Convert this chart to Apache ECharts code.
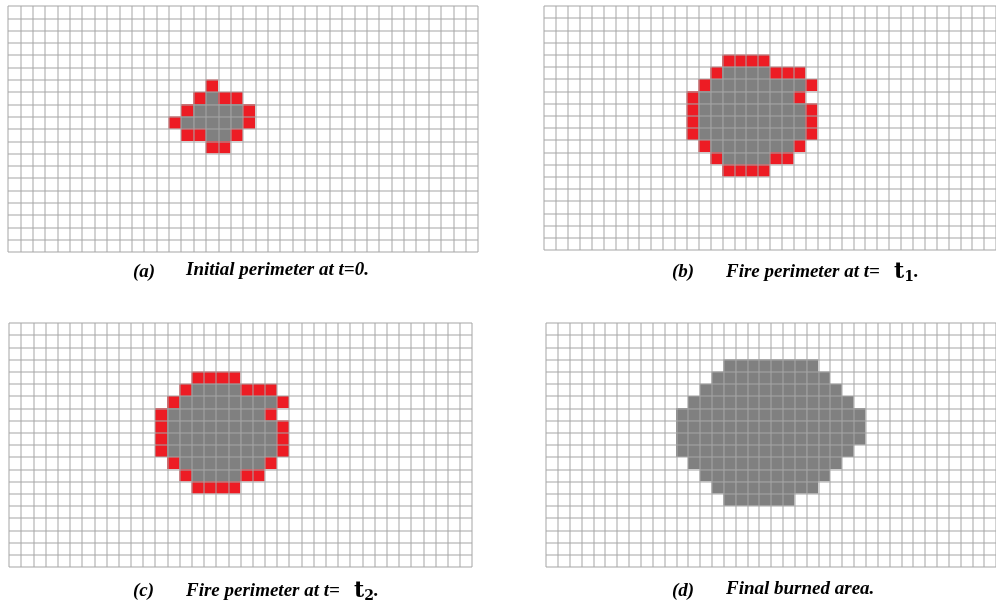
<!DOCTYPE html>
<html>
<head>
<meta charset="utf-8">
<script src="https://cdn.jsdelivr.net/npm/echarts@6/dist/echarts.min.js"></script>
<style>
html,body{margin:0;padding:0;background:#fff;}
#chart{width:996px;height:606px;}
</style>
</head>
<body>
<div id="chart"></div>
<script>
// grid size (columns x rows) of every panel
const COLS = 38;
const ROWS = 20;

// burned (gray) cells as [row, firstCol, lastCol]; fire front (red) cells as [row, col]
const grayA = [[7,16,16],[8,15,18],[9,14,18],[10,16,17]];
const redA = [[6,16],[7,15],[7,17],[7,18],[8,14],[8,19],[9,13],[9,19],[10,14],[10,15],[10,18],[11,16],[11,17]];

const grayB = [[5,15,18],[6,14,21],[7,13,20],[8,13,21],[9,13,21],[10,13,21],[11,14,20],[12,15,18]];
const redB = [[4,15],[4,16],[4,17],[4,18],[5,14],[5,19],[5,20],[5,21],[6,13],[6,22],[7,12],[7,21],
  [8,12],[8,22],[9,12],[9,22],[10,12],[10,22],[11,13],[11,21],[12,14],[12,19],[12,20],[13,15],[13,16],[13,17],[13,18]];

const grayC = [[5,15,18],[6,14,21],[7,13,20],[8,13,21],[9,13,21],[10,13,21],[11,14,20],[12,15,18]];
const redC = [[4,15],[4,16],[4,17],[4,18],[5,14],[5,19],[5,20],[5,21],[6,13],[6,22],[7,12],[7,21],
  [8,12],[8,22],[9,12],[9,22],[10,12],[10,22],[11,13],[11,21],[12,14],[12,19],[12,20],[13,15],[13,16],[13,17],[13,18]];

const grayD = [[3,15,22],[4,14,23],[5,13,24],[6,12,25],[7,11,26],[8,11,26],[9,11,26],[10,11,25],[11,12,24],[12,13,23],[13,14,22],[14,15,20]];
const redD = [];

function buildCells(gray, red) {
  const g = [];
  for (let r = 0; r < ROWS; r++) { g.push(new Array(COLS).fill(0)); }
  gray.forEach(([r, c0, c1]) => { for (let c = c0; c <= c1; c++) g[r][c] = 1; });
  red.forEach(([r, c]) => { g[r][c] = 2; });
  const out = [];
  for (let r = 0; r < ROWS; r++) for (let c = 0; c < COLS; c++) out.push([c, r, g[r][c]]);
  return out;
}

const colCats = Array.from({length: COLS}, (_, i) => String(i));
const rowCats = Array.from({length: ROWS}, (_, i) => String(i));

const panels = [
  {grid: {left: 8, top: 6, width: 470, height: 246}, data: buildCells(grayA, redA)},
  {grid: {left: 544, top: 6, width: 464, height: 244}, data: buildCells(grayB, redB)},
  {grid: {left: 9, top: 323, width: 463, height: 244}, data: buildCells(grayC, redC)},
  {grid: {left: 546, top: 323, width: 464, height: 244}, data: buildCells(grayD, redD)}
];

const lineStyle = {color: 'rgba(165,165,165,0.5)', width: 2};
const axisBase = {
  type: 'category', z: 5,
  axisLine: {show: false}, axisTick: {show: false}, axisLabel: {show: false},
  splitLine: {show: true, interval: 0, lineStyle: lineStyle}
};

const serif = '"Liberation Serif", "Times New Roman", serif';
function label(x, y, t) {
  return {type: 'text', left: x, top: y, style: {text: t, font: 'italic bold 19px ' + serif, fill: '#000'}};
}
function rich(x, y, t) {
  return {type: 'text', left: x, top: y, style: {
    text: t, fill: '#000',
    rich: {
      n: {fontFamily: serif, fontSize: 19, fontStyle: 'italic', fontWeight: 'bold', lineHeight: 24, color: '#000'},
      m: {fontFamily: '"DejaVu Serif", serif', fontSize: 22, fontWeight: 'bold', lineHeight: 24, color: '#000'},
      s: {fontFamily: '"DejaVu Serif", serif', fontSize: 14, fontWeight: 'bold', lineHeight: 13, verticalAlign: 'bottom', color: '#000'}
    }
  }};
}

const option = {
  animation: false,
  backgroundColor: '#fff',
  grid: panels.map(p => p.grid),
  xAxis: panels.map((p, i) => Object.assign({}, axisBase, {gridIndex: i, data: colCats})),
  yAxis: panels.map((p, i) => Object.assign({}, axisBase, {gridIndex: i, data: rowCats, inverse: true})),
  visualMap: {
    type: 'piecewise', show: false, dimension: 2,
    seriesIndex: [0, 1, 2, 3],
    pieces: [
      {value: 0, color: '#ffffff'},
      {value: 1, color: '#808080'},
      {value: 2, color: '#ed1c24'}
    ]
  },
  series: panels.map((p, i) => ({
    type: 'heatmap', xAxisIndex: i, yAxisIndex: i, data: p.data,
    itemStyle: {borderWidth: 0},
    emphasis: {disabled: true}, silent: true
  })),
  graphic: [
    label(133, 263, '(a)'),
    rich(186, 261, '{n|Initial perimeter at t=0.}'),
    label(672, 263, '(b)'),
    rich(726, 261, '{n|Fire perimeter at t=   }{m|t}{s|1}{n|.}'),
    label(133, 582, '(c)'),
    rich(186, 580, '{n|Fire perimeter at t=   }{m|t}{s|2}{n|.}'),
    label(672, 582, '(d)'),
    rich(726, 580, '{n|Final burned area.}')
  ]
};

const chart = echarts.init(document.getElementById('chart'), null, {renderer: 'canvas'});
chart.setOption(option);
</script>
</body>
</html>
